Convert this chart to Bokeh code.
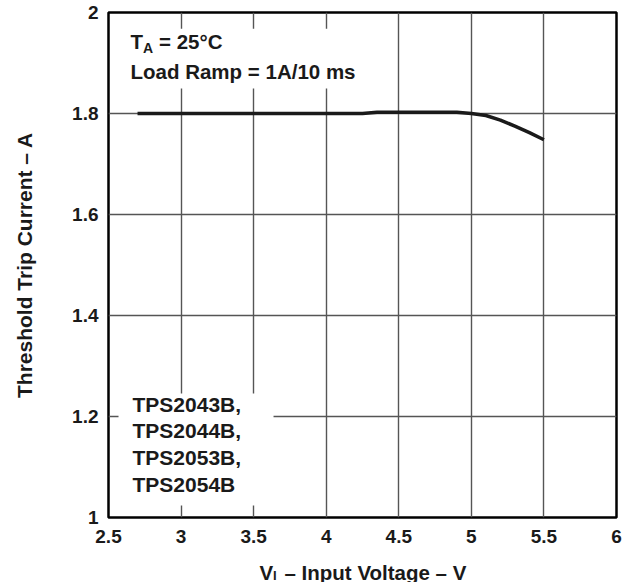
from bokeh.plotting import figure
from bokeh.layouts import column
from bokeh.models import (ColumnDataSource, Range1d, FixedTicker, CustomJSTickFormatter,
                          BoxAnnotation, Label)
from bokeh.core.properties import value
from bokeh.embed import file_html
from bokeh.resources import INLINE

# ---- data ----
voltage = [2.7, 3.0, 3.5, 4.0, 4.25, 4.35, 4.5, 4.7, 4.9, 5.0, 5.1, 5.2, 5.3, 5.4, 5.5]
trip_current = [1.800, 1.800, 1.800, 1.800, 1.800, 1.8025, 1.8025, 1.8025, 1.8025, 1.800,
                1.796, 1.787, 1.775, 1.762, 1.748]

x_ticks = [2.5, 3.0, 3.5, 4.0, 4.5, 5.0, 5.5, 6.0]
x_labels = ["2.5", "3", "3.5", "4", "4.5", "5", "5.5", "6"]
y_ticks = [1.0, 1.2, 1.4, 1.6, 1.8, 2.0]
y_labels = ["1", "1.2", "1.4", "1.6", "1.8", "2"]

notes_top = ["T", "A", "= 25°C", "Load Ramp = 1A/10 ms"]
notes_parts = ["TPS2043B,", "TPS2044B,", "TPS2053B,", "TPS2054B"]
x_title = ["V", "I", "– Input Voltage – V"]
y_title = "Threshold Trip Current – A"

FONT = "Liberation Sans"
INK = "#1a1a1a"

p = figure(width=628, height=548, output_backend="svg", toolbar_location=None,
           x_range=Range1d(2.5, 6.0), y_range=Range1d(1.0, 2.0),
           min_border_left=108, min_border_right=12, min_border_top=12, min_border_bottom=31)
p.background_fill_color = "white"
p.border_fill_color = "white"
p.outline_line_color = "black"
p.outline_line_width = 2.5

fmt_code = """
const i = tvals.findIndex(t => Math.abs(t - tick) < 1e-9);
return i >= 0 ? tlabels[i] : '';
"""
p.xaxis.ticker = FixedTicker(ticks=x_ticks)
p.yaxis.ticker = FixedTicker(ticks=y_ticks)
p.xaxis.formatter = CustomJSTickFormatter(args=dict(tvals=x_ticks, tlabels=x_labels), code=fmt_code)
p.yaxis.formatter = CustomJSTickFormatter(args=dict(tvals=y_ticks, tlabels=y_labels), code=fmt_code)

for ax in (p.xaxis[0], p.yaxis[0]):
    ax.axis_line_color = None
    ax.major_tick_line_color = None
    ax.minor_tick_line_color = None
    ax.major_tick_in = 0
    ax.major_tick_out = 0
    ax.minor_tick_in = 0
    ax.minor_tick_out = 0
    ax.major_label_text_font = FONT
    ax.major_label_text_font_style = "bold"
    ax.major_label_text_font_size = "19px"
    ax.major_label_text_color = INK
p.xaxis.major_label_standoff = 12
p.yaxis.major_label_standoff = 10

p.yaxis.axis_label = y_title
p.yaxis.axis_label_text_font = FONT
p.yaxis.axis_label_text_font_style = "bold"
p.yaxis.axis_label_text_font_size = "21px"
p.yaxis.axis_label_text_color = INK
p.yaxis.axis_label_standoff = 33

p.xgrid.ticker = FixedTicker(ticks=x_ticks)
p.ygrid.ticker = FixedTicker(ticks=y_ticks)
for g in (p.xgrid[0], p.ygrid[0]):
    g.grid_line_color = "#555555"
    g.grid_line_width = 1.4

src = ColumnDataSource(dict(x=voltage, y=trip_current))
p.line("x", "y", source=src, line_color=INK, line_width=3.5)

# white backgrounds behind the notes
p.add_layout(BoxAnnotation(left=2.569, right=4.32, bottom=1.8495, top=1.968,
                           fill_color="white", fill_alpha=1.0, line_color=None))
p.add_layout(BoxAnnotation(left=2.569, right=3.637, bottom=1.024, top=1.2455,
                           fill_color="white", fill_alpha=1.0, line_color=None))

def lab(text, x, y, size=20.5):
    p.add_layout(Label(x=x, y=y, x_units="screen", y_units="screen", text=text,
                       text_font=FONT, text_font_style="bold", text_font_size=f"{size}px",
                       text_color=INK, text_baseline="alphabetic", text_align="left"))

# top note
lab(notes_top[0], 22, 476)
lab(notes_top[1], 34.5, 469.3, size=14)
lab(notes_top[2], 50.5, 476)
lab(notes_top[3], 22, 446)

# part numbers
for i, t in enumerate(notes_parts):
    lab(t, 24, 113.5 - i * 26.7, size=21)

# x axis title, drawn in a strip below the chart (frame aligned with the chart frame,
# x range expressed in page pixels)
t = figure(width=628, height=34, output_backend="svg", toolbar_location=None,
           x_axis_type=None, y_axis_type=None,
           x_range=Range1d(108, 616), y_range=Range1d(0, 34),
           min_border=0, min_border_left=0, min_border_right=0,
           min_border_top=0, min_border_bottom=0)
t.grid.visible = False
t.outline_line_color = None
t.background_fill_color = "white"
t.border_fill_color = "white"
title_src = ColumnDataSource(dict(x=[259, 272.5, 284], y=[10, 6.8, 10], text=x_title,
                                  size=["20.5px", "13px", "20.5px"]))
t.text("x", "y", text="text", source=title_src, text_font=value(FONT),
       text_font_style="bold", text_font_size="size", text_color=INK,
       text_baseline="alphabetic", text_align="left")

layout = column(p, t, spacing=0)
open("out.html", "w").write(file_html(layout, INLINE))
